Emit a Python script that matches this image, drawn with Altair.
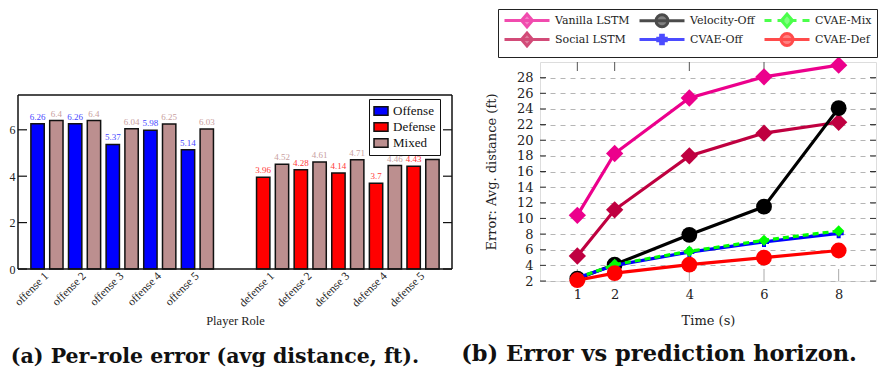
import altair as alt
import pandas as pd

# ---------------- left panel data ----------------
roles = ["offense 1", "offense 2", "offense 3", "offense 4", "offense 5", "gap",
         "defense 1", "defense 2", "defense 3", "defense 4", "defense 5"]
offense_roles = ["offense 1", "offense 2", "offense 3", "offense 4", "offense 5"]
defense_roles = ["defense 1", "defense 2", "defense 3", "defense 4", "defense 5"]
offense_vals = [6.26, 6.26, 5.37, 5.98, 5.14]
offense_mixed = [6.4, 6.4, 6.04, 6.25, 6.03]
defense_vals = [3.96, 4.28, 4.14, 3.7, 4.43]
defense_mixed = [4.52, 4.61, 4.71, 4.46, 4.72]
bar_series = ["Offense", "Defense", "Mixed"]
bar_colors = ["#0000ff", "#ff0000", "#bc8f8f"]
label_colors = {"Offense": "#4747ff", "Defense": "#ff3a3a", "Mixed": "#c9a0a0"}
left_ticks = [0, 2, 4, 6]
left_top = 7.5

# ---------------- right panel data ----------------
times = [1, 2, 4, 6, 8]
series_names = ["Vanilla LSTM", "Social LSTM", "Velocity-Off", "CVAE-Off", "CVAE-Mix", "CVAE-Def"]
vanilla = [10.4, 18.3, 25.4, 28.1, 29.6]
social = [5.2, 11.1, 18.0, 20.9, 22.3]
velocity = [2.3, 4.1, 7.9, 11.5, 24.1]
cvae_off = [2.4, 4.0, 5.7, 7.0, 8.1]
cvae_mix = [2.4, 4.1, 5.8, 7.2, 8.4]
cvae_def = [2.1, 3.0, 4.1, 5.0, 5.9]
series_values = [vanilla, social, velocity, cvae_off, cvae_mix, cvae_def]
series_colors = ["#ec008c", "#bf0040", "#000000", "#0000ff", "#00ff00", "#ff0000"]
series_shapes = ["diamond", "diamond", "circle", "cross", "diamond", "circle"]
marker_sizes = [300, 300, 250, 100, 130, 250]
series_dash = [None, None, None, None, [6, 4], None]
right_yticks = list(range(2, 30, 2))
right_xticks = [1, 2, 4, 6, 8]

LW, LH = 434, 207
RW, RH = 336, 219
left_ymax = left_top * LH / 174.0   # the bar frame occupies the lower 174 px

# ================= left chart =================
rows = []
for r, v, m in zip(offense_roles, offense_vals, offense_mixed):
    rows.append(dict(role=r, slot="a", series="Offense", value=v, lc=label_colors["Offense"]))
    rows.append(dict(role=r, slot="b", series="Mixed", value=m, lc=label_colors["Mixed"]))
for r, v, m in zip(defense_roles, defense_vals, defense_mixed):
    rows.append(dict(role=r, slot="a", series="Defense", value=v, lc=label_colors["Defense"]))
    rows.append(dict(role=r, slot="b", series="Mixed", value=m, lc=label_colors["Mixed"]))
bars_df = pd.DataFrame(rows)

serif = "Liberation Serif"
x_left = alt.X("role:N", scale=alt.Scale(domain=roles, paddingInner=0, paddingOuter=0.27),
               axis=alt.Axis(title="Player Role", labelAngle=-45, labelAlign="right",
                             labelBaseline="middle", ticks=False, domain=False,
                             labelExpr="datum.label == 'gap' ? '' : datum.label",
                             labelFont=serif, labelFontSize=11.5, labelColor="#222",
                             labelPadding=5, titleFont=serif, titleFontSize=12.5,
                             titleFontWeight="normal", titleColor="#222", titlePadding=6))
xo_left = alt.XOffset("slot:N", scale=alt.Scale(paddingInner=0.29, paddingOuter=0.146))
y_left = alt.Y("value:Q", scale=alt.Scale(domain=[0, left_ymax], nice=False),
               axis=alt.Axis(values=left_ticks, title=None, grid=False, ticks=False, domain=False,
                             labelFont=serif, labelFontSize=12, labelColor="#222", labelPadding=3))

bars = alt.Chart(bars_df).mark_bar(stroke="#111", strokeWidth=1.5).encode(
    x=x_left, xOffset=xo_left, y=y_left,
    color=alt.Color("series:N", scale=alt.Scale(domain=bar_series, range=bar_colors),
                    legend=alt.Legend(title=None, orient="none", legendX=351, legendY=37,
                                      symbolType="M-1,-0.6H1V0.6H-1Z", symbolSize=196,
                                      symbolStrokeColor="#111", symbolStrokeWidth=1.5,
                                      labelFont=serif, labelFontSize=13, labelColor="#111",
                                      strokeColor="#111", fillColor="white", padding=4,
                                      rowPadding=0, labelOffset=4)),
)
vlabels = alt.Chart(bars_df).mark_text(font=serif, fontSize=9, baseline="alphabetic", dy=-4).encode(
    x=x_left, xOffset=xo_left, y=y_left,
    text=alt.Text("value:Q"),
    color=alt.Color("lc:N", scale=None),
)
tick_df = pd.DataFrame({"t": left_ticks})
frame_df = pd.DataFrame({"lo": [0.0], "hi": [left_top]})
fs = dict(color="#111", strokeWidth=1.5)
left_layers = [
    bars, vlabels,
    alt.Chart(tick_df).mark_rule(color="#111", strokeWidth=1.2).encode(
        y=alt.Y("t:Q"), x=alt.value(0), x2=alt.value(9)),
    alt.Chart(tick_df).mark_rule(color="#111", strokeWidth=1.2).encode(
        y=alt.Y("t:Q"), x=alt.value(LW - 9), x2=alt.value(LW)),
    alt.Chart(frame_df).mark_rule(**fs).encode(y=alt.Y("hi:Q"), x=alt.value(0), x2=alt.value(LW)),
    alt.Chart(frame_df).mark_rule(**fs).encode(y=alt.Y("lo:Q"), x=alt.value(0), x2=alt.value(LW)),
    alt.Chart(frame_df).mark_rule(**fs).encode(y=alt.Y("lo:Q"), y2="hi:Q", x=alt.value(0)),
    alt.Chart(frame_df).mark_rule(**fs).encode(y=alt.Y("lo:Q"), y2="hi:Q", x=alt.value(LW)),
]

left = alt.layer(*left_layers).properties(
    width=LW, height=LH, view=alt.ViewBackground(stroke="transparent"),
    title=alt.TitleParams("(a) Per-role error (avg distance, ft).", orient="bottom",
                          font="DejaVu Serif", fontSize=20.5, fontWeight="bold",
                          color="#111", anchor="middle", frame="group", offset=20, dx=-20),
)

# ================= right chart =================
cm = "DejaVu Serif"
x_right = alt.X("t:Q", scale=alt.Scale(domain=[0, 9], nice=False),
                axis=alt.Axis(values=right_xticks, title="Time (s)", grid=False, ticks=False,
                              domain=False, labelFont=cm, labelFontSize=13, labelColor="#222",
                              labelPadding=7, titleFont=cm, titleFontSize=13,
                              titleFontWeight="normal", titleColor="#222", titlePadding=13))
y_right = alt.Y("v:Q", scale=alt.Scale(domain=[2, 30], nice=False),
                axis=alt.Axis(values=right_yticks, title="Error: Avg. distance (ft)",
                              grid=True, gridDash=[5, 5], gridColor="#b5b5b5", gridWidth=1,
                              ticks=False, domain=False, labelFont=cm, labelFontSize=13,
                              labelColor="#222", labelPadding=7, titleFont=cm,
                              titleFontSize=13, titleFontWeight="normal", titleColor="#222",
                              titlePadding=18))

layers = []
for name, vals, col, shp, sz, dash in zip(series_names, series_values, series_colors,
                                          series_shapes, marker_sizes, series_dash):
    df = pd.DataFrame({"t": times, "v": vals})
    lkw = dict(color=col, strokeWidth=3.2)
    if dash:
        lkw["strokeDash"] = dash
    layers.append(alt.Chart(df).mark_line(**lkw).encode(x=x_right, y=y_right))
    layers.append(alt.Chart(df).mark_point(filled=True, color=col, opacity=1, shape=shp, size=sz)
                  .encode(x=x_right, y=y_right))

# legend symbols: a 45px line with the marker at its middle (1 unit = 5px)
c = 3.5
diamond = f"M{c - 1.1:.2f},0L{c:.2f},-1.3L{c + 1.1:.2f},0L{c:.2f},1.3Z"
circle = f"M{c - 1.2:.2f},0A1.2,1.2 0 1,0 {c + 1.2:.2f},0A1.2,1.2 0 1,0 {c - 1.2:.2f},0Z"
a, b = 0.85, 0.27
cross = (f"M{c - a:.2f},{-b}H{c - b:.2f}V{-a}H{c + b:.2f}V{-b}H{c + a:.2f}V{b}"
         f"H{c + b:.2f}V{a}H{c - b:.2f}V{b}H{c - a:.2f}Z")
solid = "M-1,0H8"
dashed = "M-1,0H0.4M1.6,0H3M4,0H5.4M6.6,0H8"
legend_paths = [solid + diamond, solid + diamond, solid + circle,
                solid + cross, dashed + diamond, solid + circle]
leg_df = pd.DataFrame({"series": series_names, "t": [None] * 6, "v": [None] * 6})
legend_layer = alt.Chart(leg_df).mark_point(filled=True).encode(
    x=x_right, y=y_right,
    fill=alt.Fill("series:N", scale=alt.Scale(domain=series_names, range=series_colors),
                  legend=alt.Legend(title=None)),
    stroke=alt.Stroke("series:N", scale=alt.Scale(domain=series_names, range=series_colors),
                      legend=alt.Legend(title=None)),
    shape=alt.Shape("series:N", scale=alt.Scale(domain=series_names, range=legend_paths),
                    legend=alt.Legend(title=None, orient="none", legendX=-42, legendY=-53,
                                      columns=3, symbolSize=100, symbolStrokeWidth=3,
                                      labelFont=cm, labelFontSize=11, labelColor="#222",
                                      strokeColor="#222", fillColor="white", padding=5,
                                      columnPadding=3, rowPadding=-9, labelOffset=39)),
)

r_ticks_y = pd.DataFrame({"v": right_yticks})
r_ticks_x = pd.DataFrame({"t": right_xticks})
tick_layers = [
    alt.Chart(r_ticks_y).mark_rule(color="#333", strokeWidth=1).encode(
        y=y_right, x=alt.value(0), x2=alt.value(6)),
    alt.Chart(r_ticks_y).mark_rule(color="#333", strokeWidth=1).encode(
        y=y_right, x=alt.value(RW - 6), x2=alt.value(RW)),
    alt.Chart(r_ticks_x).mark_rule(color="#555", strokeWidth=1).encode(
        x=x_right, y=alt.value(0), y2=alt.value(9)),
    alt.Chart(r_ticks_x).mark_rule(color="#aaa", strokeWidth=1).encode(
        x=x_right, y=alt.value(RH - 12), y2=alt.value(RH)),
]

right = alt.layer(*tick_layers, *layers, legend_layer).properties(
    width=RW, height=RH,
    title=alt.TitleParams("(b) Error vs prediction horizon.", orient="bottom",
                          font="DejaVu Serif", fontSize=22.5, fontWeight="bold",
                          color="#111", anchor="middle", frame="group", offset=16, dx=-49),
)

chart = (alt.hconcat(left, right, spacing=88, bounds="flush")
         .resolve_scale(color="independent", fill="independent", stroke="independent",
                        shape="independent")
         .resolve_legend(color="independent", fill="independent", stroke="independent",
                         shape="independent")
         .properties(padding=0)
         .configure_view(stroke="#111", strokeWidth=1.5)
         .configure(background="white"))

chart.save("out.html", embed_options={"renderer": "svg", "actions": False})
